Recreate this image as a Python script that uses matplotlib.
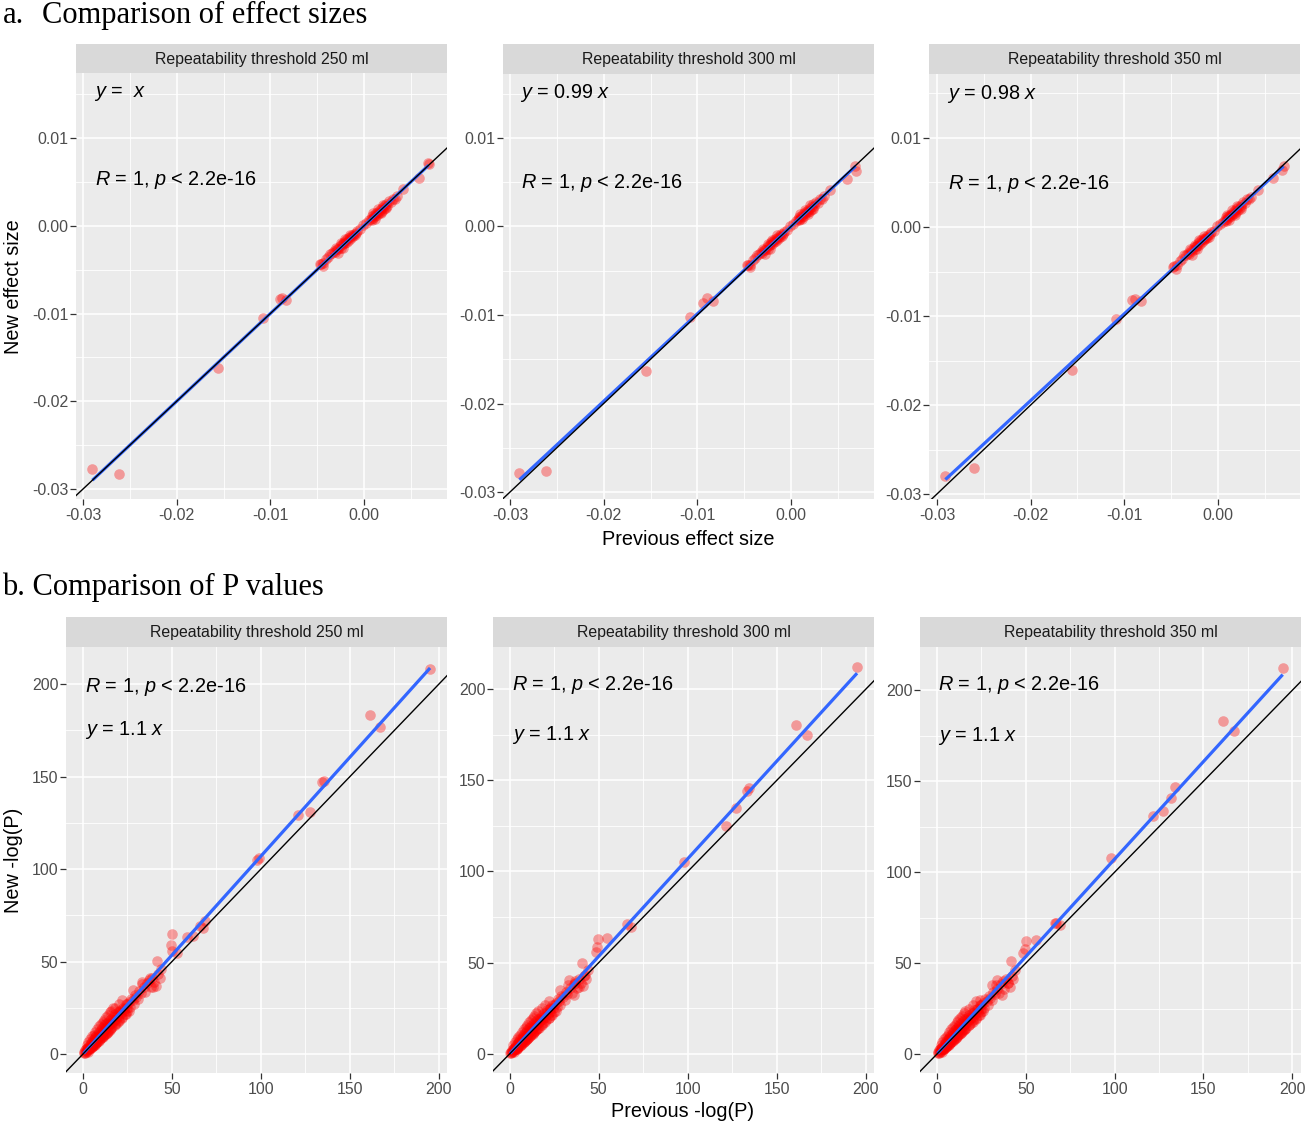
import matplotlib
matplotlib.use('Agg')
import matplotlib.pyplot as plt
import numpy as np

plt.rcParams['font.family'] = ['Liberation Sans', 'DejaVu Sans']
plt.rcParams['mathtext.fontset'] = 'custom'
plt.rcParams['mathtext.rm'] = 'Liberation Sans'
plt.rcParams['mathtext.it'] = 'Liberation Sans:italic'
plt.rcParams['axes.unicode_minus'] = False

# ---------------- data ----------------
thresholds = ['250', '300', '350']
strip_labels = ['Repeatability threshold %s ml' % t for t in thresholds]

# effect sizes: dense cluster (common to all thresholds)
eff_cluster_prev = [-0.0047, -0.0044, -0.0041, -0.0038, -0.0036, -0.0034, -0.0032, -0.0031, -0.0029, -0.0028,
                    -0.0026, -0.0025, -0.0024, -0.0022, -0.0021, -0.0020, -0.0019, -0.0018, -0.0017, -0.0016,
                    -0.0015, -0.0014, -0.0013, -0.0012, -0.0011, -0.0010, -0.0009, -0.0007, -0.0004, -0.0001,
                    0.0002, 0.0005, 0.0007, 0.0008, 0.0009, 0.0010, 0.0011, 0.0012, 0.0013, 0.0014,
                    0.0015, 0.0016, 0.0017, 0.0018, 0.0019, 0.0020, 0.0021, 0.0022, 0.0024, 0.0025,
                    0.0027, 0.0029, 0.0031, 0.0033, 0.0035,
                    -0.0030, -0.0025, -0.0020, -0.0015, -0.0028, -0.0022,
                    0.0010, 0.0015, 0.0020, 0.0012, 0.0018, 0.0024]
eff_cluster_new = [-0.0044, -0.0043, -0.0038, -0.0036, -0.0032, -0.0031, -0.0029, -0.0030, -0.0026, -0.0027,
                   -0.0023, -0.0025, -0.0021, -0.0021, -0.0018, -0.0020, -0.0016, -0.0018, -0.0014, -0.0016,
                   -0.0013, -0.0014, -0.0011, -0.0012, -0.0009, -0.0011, -0.0008, -0.0006, -0.0004, 0.0001,
                   0.0003, 0.0006, 0.0008, 0.0007, 0.0011, 0.0009, 0.0012, 0.0011, 0.0014, 0.0012,
                   0.0016, 0.0015, 0.0018, 0.0016, 0.0020, 0.0018, 0.0022, 0.0020, 0.0025, 0.0023,
                   0.0028, 0.0027, 0.0031, 0.0031, 0.0034,
                   -0.0025, -0.0020, -0.0015, -0.0010, -0.0031, -0.0025,
                   0.0014, 0.0019, 0.0024, 0.0008, 0.0014, 0.0020]

# effect sizes: individual points per threshold
eff_prev_250 = [-0.0290, -0.0262, -0.0156, -0.0108, -0.0090, -0.00875, -0.0083, -0.0046, -0.0044, 0.0042, 0.0059, 0.0068, 0.0069]
eff_new_250 = [-0.0277, -0.0283, -0.0162, -0.0105, -0.0084, -0.0082, -0.0085, -0.0044, -0.0046, 0.0042, 0.0054, 0.0072, 0.0070]
eff_prev_300 = [-0.0290, -0.0262, -0.0155, -0.0108, -0.0090, -0.0094, -0.0083, -0.0046, -0.0044, 0.0042, 0.0060, 0.0068, 0.0069]
eff_new_300 = [-0.0278, -0.0276, -0.0163, -0.0102, -0.0081, -0.0087, -0.0084, -0.0044, -0.0046, 0.0041, 0.0054, 0.0068, 0.0063]
eff_prev_350 = [-0.0291, -0.0261, -0.0156, -0.0109, -0.0092, -0.0089, -0.0082, -0.0048, -0.0045, 0.0043, 0.0059, 0.0070, 0.0068]
eff_new_350 = [-0.0280, -0.0271, -0.0161, -0.0103, -0.0082, -0.0081, -0.0083, -0.0045, -0.0047, 0.0042, 0.0055, 0.0068, 0.0064]

eff_slopes = [1.0, 0.987, 0.975]
eff_eq_labels = ['$y$ =  $x$', '$y$ = 0.99 $x$', '$y$ = 0.98 $x$']

# -log(P): dense band near the origin (common to all thresholds)
p_band_prev = [0.3, 0.6, 1.0, 1.2, 1.5, 1.8, 2.0, 2.3, 2.5, 2.8,
               3.0, 3.2, 3.5, 3.8, 4.0, 4.2, 4.5, 4.8, 5.0, 5.2,
               5.5, 5.8, 6.0, 6.2, 6.5, 6.8, 7.0, 7.2, 7.5, 7.8,
               8.0, 8.3, 8.5, 8.8, 9.0, 9.3, 9.6, 10.0, 10.2, 10.5,
               10.8, 11.0, 11.3, 11.6, 12.0, 12.3, 12.6, 13.0, 13.3, 13.6,
               14.0, 14.3, 14.7, 15.0, 15.4, 15.8, 16.2, 16.5, 17.0, 17.3,
               17.8, 18.2, 18.6, 19.0, 19.5, 20.0, 20.4, 21.0, 21.5, 22.0,
               22.5, 23.0, 23.5, 24.0, 24.5, 25.0, 26.0, 26.5, 27.0, 28.0,
               28.5, 29.0, 30.0, 31.0, 31.5, 32.5, 33.0, 34.0, 35.0, 36.0,
               37.0, 38.0, 39.0, 40.0, 41.0, 42.0, 43.0, 44.0]
p_band_new = [0.5, 1.2, 0.4, 2.0, 1.0, 2.8, 1.5, 3.2, 2.0, 1.2,
              4.0, 2.6, 3.0, 5.0, 3.5, 2.5, 6.0, 4.5, 3.8, 7.0,
              5.5, 4.2, 8.0, 6.5, 5.0, 9.0, 7.2, 5.8, 10.0, 8.0,
              6.5, 11.0, 9.0, 7.2, 12.0, 10.0, 8.0, 13.0, 11.0, 9.0,
              14.0, 12.0, 9.8, 15.0, 13.0, 10.8, 16.0, 14.0, 11.5, 17.0,
              15.0, 12.5, 18.0, 16.0, 13.5, 19.0, 17.0, 14.5, 20.0, 18.0,
              16.0, 21.5, 19.0, 17.0, 22.5, 20.5, 18.5, 24.0, 22.0, 20.0,
              25.0, 23.0, 21.5, 27.0, 25.0, 23.0, 28.0, 25.5, 30.0, 29.0,
              27.0, 32.0, 31.0, 29.5, 34.0, 33.0, 38.0, 36.0, 33.5, 38.5,
              40.0, 36.0, 41.0, 39.0, 37.0, 43.0, 41.0, 46.0]
# band edges (upper / lower / middle fill)
p_edge_prev = [2, 3, 4, 5, 6, 7, 8, 9, 10, 11, 12, 13, 14, 15, 16, 18, 20, 22,
               4, 5, 6, 7, 8, 9, 10, 11, 12, 13, 14, 15, 16, 18, 20, 22, 24, 26,
               3, 5, 7, 9, 11, 13, 15, 17, 19, 21, 23, 25]
p_edge_new = [5, 6.5, 8, 9.5, 10.5, 12, 13.5, 15, 16, 17.5, 18.5, 20, 21, 22.5, 23.5, 25, 27, 29,
              3, 3.8, 4.8, 5.6, 6.6, 7.5, 8.4, 9.3, 10.2, 11, 12, 13, 14, 15.8, 17.8, 19.5, 21.5, 23.5,
              3.5, 6, 8, 10, 12.5, 14.5, 16.5, 18.5, 20.5, 23, 24.5, 27]

# -log(P): individual points per threshold
p_prev_250 = [195, 161, 167, 134, 135.5, 127.5, 121, 98, 99, 68.5, 66, 50.2, 49.4, 49.8, 52.6, 58.3, 62, 67.6, 41.4, 33, 37.6, 39.4, 28, 17]
p_new_250 = [208, 183, 177, 147, 147.5, 131, 129, 105, 106, 72, 69, 64.7, 58.9, 55.8, 54.4, 63.4, 63.8, 68, 50.3, 39, 41, 36, 34.6, 25]
p_prev_300 = [195, 161, 167, 134.6, 133.5, 127, 121.7, 98, 66, 68, 49.8, 49.2, 48.3, 40.7, 54.6, 33.2, 37, 39, 28.5, 42.6, 36]
p_new_300 = [212, 180, 175, 146, 144, 135, 125, 105, 71, 69.7, 62.8, 58.8, 56, 50, 63.5, 40.5, 38.7, 36.9, 35, 43.3, 32.3]
p_prev_350 = [194.7, 161, 167, 134, 132, 121.5, 127, 98, 67, 66.4, 69.2, 50, 49.5, 48.6, 56, 41.5, 33.6, 30.8, 36.4, 40.1, 24.2]
p_new_350 = [212.6, 183, 177.5, 147, 141, 131, 133.5, 108, 72, 71.8, 70.9, 62, 58, 55.3, 62.6, 51, 40.7, 37.9, 32.4, 38.8, 29.7]

p_slopes = [1.07, 1.07, 1.072]
p_eq_labels = ['$y$ = 1.1 $x$', '$y$ = 1.1 $x$', '$y$ = 1.1 $x$']
cor_label = '$R$ = 1, $p$ < 2.2e-16'

eff_ticks = [-0.03, -0.02, -0.01, 0.00, 0.01]
eff_ticklabels = ['-0.03', '-0.02', '-0.01', '0.00', '0.01']
eff_minor = [-0.025, -0.015, -0.005, 0.005, 0.015]
p_ticks = [0, 50, 100, 150, 200]
p_ticklabels = ['0', '50', '100', '150', '200']
p_minor = [25, 75, 125, 175]

# ---------------- layout ----------------
W, H = 1306, 1124
fig = plt.figure(figsize=(W / 100, H / 100), dpi=100)


def rect_px(l, t, r, b):
    return [l / W, 1 - b / H, (r - l) / W, (b - t) / H]


def ftext(x, y, s, **kw):
    return fig.text(x / W, 1 - y / H, s, **kw)


top_plot = [(76, 73, 447, 499), (503, 74, 874, 499), (929, 74, 1300, 499)]
top_strip = [(76, 44, 447, 73), (503, 44, 874, 74), (929, 44, 1300, 74)]
top_xlim = [(-0.03075, 0.00886), (-0.03075, 0.00886), (-0.03085, 0.00875)]
top_ylim = [(-0.03114, 0.01741), (-0.03079, 0.01723), (-0.03056, 0.01719)]
top_eq_pos = [(94, 97), (520, 98.5), (947, 99)]
top_r_pos = [(95, 185), (521, 188), (948, 189)]

bot_plot = [(66, 647, 447, 1073), (493, 647, 874, 1073), (920, 647, 1301, 1073)]
bot_strip = [(66, 617, 447, 647), (493, 617, 874, 647), (920, 617, 1301, 647)]
bot_xlim = [(-9.55, 204.5), (-9.26, 204.5), (-9.58, 205.0)]
bot_ylim = [(-10.27, 220.0), (-10.4, 223.0), (-10.45, 223.9)]
bot_r_pos = [(85, 692), (512, 690), (938, 690)]
bot_eq_pos = [(85, 735), (512, 740), (938, 741)]

PANEL_BG = '#EBEBEB'
STRIP_BG = '#D9D9D9'
TICK_C = '#4D4D4D'
PT_COLOR = '#FF0000'
FIT_C = '#3366FF'

eff_sets = [(eff_prev_250, eff_new_250), (eff_prev_300, eff_new_300), (eff_prev_350, eff_new_350)]
p_sets = [(p_prev_250, p_new_250), (p_prev_300, p_new_300), (p_prev_350, p_new_350)]


def style_axes(ax, xlim, ylim, xticks, xlabels, yticks, ylabels, minor):
    ax.set_facecolor(PANEL_BG)
    ax.set_xlim(*xlim)
    ax.set_ylim(*ylim)
    ax.set_xticks(xticks)
    ax.set_xticklabels(xlabels)
    ax.set_yticks(yticks)
    ax.set_yticklabels(ylabels)
    for v in minor:
        ax.axvline(v, color='white', lw=0.6, zorder=0.5)
        ax.axhline(v, color='white', lw=0.6, zorder=0.5)
    for v in yticks:
        ax.axvline(v, color='white', lw=1.15, zorder=0.6)
        ax.axhline(v, color='white', lw=1.15, zorder=0.6)
    for s in ax.spines.values():
        s.set_visible(False)
    ax.tick_params(axis='both', which='major', length=4, width=0.9, color='#333333',
                   labelsize=11.4, labelcolor=TICK_C)
    ax.tick_params(axis='x', pad=2.2)
    ax.tick_params(axis='y', pad=1.5)


def add_strip(box, label):
    sa = fig.add_axes(rect_px(*box))
    sa.set_facecolor(STRIP_BG)
    sa.set_xticks([])
    sa.set_yticks([])
    for s in sa.spines.values():
        s.set_visible(False)
    sa.text(0.5, 0.48, label, ha='center', va='center', fontsize=11.4, color='#1A1A1A',
            transform=sa.transAxes)


def draw_panel(ax, xs, ys, slope):
    ax.scatter(xs, ys, s=58, color=PT_COLOR, alpha=0.35, linewidths=0, zorder=2)
    xr = np.array([min(xs), max(xs)])
    ax.plot(xr, slope * xr, color=FIT_C, lw=2.3, solid_capstyle='butt', zorder=3)
    ax.axline((0, 0), slope=1, color='black', lw=1.0, zorder=4)


# top row: effect sizes
for i in range(3):
    ax = fig.add_axes(rect_px(*top_plot[i]))
    style_axes(ax, top_xlim[i], top_ylim[i], eff_ticks[:4], eff_ticklabels[:4],
               eff_ticks, eff_ticklabels, eff_minor)
    prev, new = eff_sets[i]
    xs = list(eff_cluster_prev) + list(prev)
    ys = list(eff_cluster_new) + list(new)
    draw_panel(ax, xs, ys, eff_slopes[i])
    add_strip(top_strip[i], strip_labels[i])
    ftext(*top_eq_pos[i], eff_eq_labels[i], fontsize=14.3, va='baseline', ha='left')
    ftext(*top_r_pos[i], cor_label, fontsize=14.3, va='baseline', ha='left')

# bottom row: -log(P)
for i in range(3):
    ax = fig.add_axes(rect_px(*bot_plot[i]))
    style_axes(ax, bot_xlim[i], bot_ylim[i], p_ticks, p_ticklabels, p_ticks, p_ticklabels, p_minor)
    prev, new = p_sets[i]
    xs = list(p_band_prev) + list(p_edge_prev) + list(prev)
    ys = list(p_band_new) + list(p_edge_new) + list(new)
    draw_panel(ax, xs, ys, p_slopes[i])
    add_strip(bot_strip[i], strip_labels[i])
    ftext(*bot_r_pos[i], cor_label, fontsize=14.3, va='baseline', ha='left')
    ftext(*bot_eq_pos[i], p_eq_labels[i], fontsize=14.3, va='baseline', ha='left')

# axis titles
ftext(14, 287, 'New effect size', rotation=90, ha='center', va='center', fontsize=14.3)
ftext(688, 545, 'Previous effect size', ha='center', va='baseline', fontsize=14.3)
ftext(14, 860, 'New -log(P)', rotation=90, ha='center', va='center', fontsize=14.3)
ftext(683, 1117, 'Previous -log(P)', ha='center', va='baseline', fontsize=14.3)

# section titles
serif = ['Liberation Serif', 'DejaVu Serif']
ftext(3, 23, 'a.', family=serif, fontsize=22, ha='left', va='baseline')
ftext(42, 23, 'Comparison of effect sizes', family=serif, fontsize=22, ha='left', va='baseline')
ftext(2, 595, 'b. Comparison of P values', family=serif, fontsize=22, ha='left', va='baseline')

fig.savefig('out.png', dpi=100)
